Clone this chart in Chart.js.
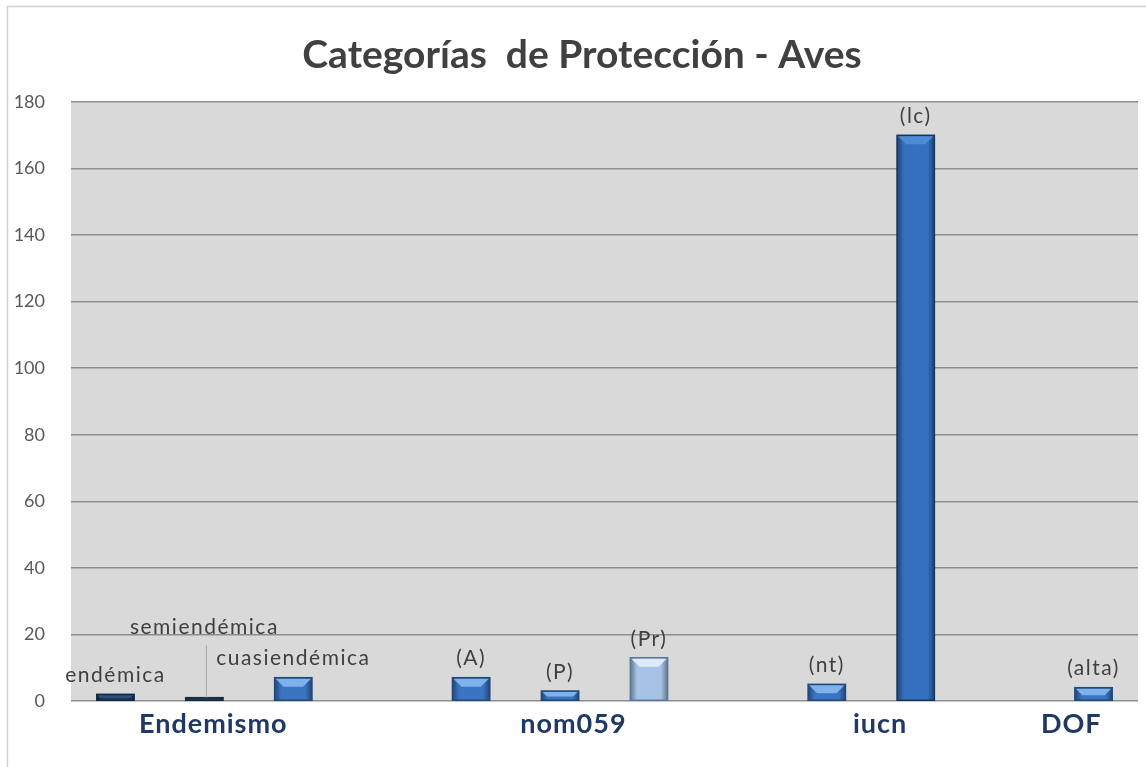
<!DOCTYPE html>
<html>
<head>
<meta charset="utf-8">
<script src="https://cdn.jsdelivr.net/npm/chart.js@4.4.0/dist/chart.umd.min.js"></script>
<style>
  html, body { margin: 0; padding: 0; background: #fff; }
  #wrap { width: 1146px; height: 767px; }
</style>
</head>
<body>
<div id="wrap"><canvas id="chart" width="1146" height="767"></canvas></div>
<script>
// etiquetas sobre cada barra; las ranuras vacías separan los grupos
const categorias = ['endémica', 'semiendémica', 'cuasiendémica', '', '(A)', '(P)', '(Pr)', '', '(nt)', '(lc)', '', '(alta)'];
const especies = [2, 1, 7, null, 7, 3, 13, null, 5, 170, null, 4];
const grupos = ['Endemismo', 'nom059', 'iucn', 'DOF'];
const yTicks = [0, 20, 40, 60, 80, 100, 120, 140, 160, 180];
const titulo = 'Categorías  de Protección - Aves';

// posición (en ranuras) de cada nombre de grupo bajo el eje
const grupoPos = [1.1, 5.15, 8.6, 10.75];

const tonos = ['oscuro', 'oscuro', 'medio', 'medio', 'medio', 'medio', 'claro', 'medio', 'medio', 'fuerte', 'medio', 'medio'];
const paleta = {
  oscuro: { fill: '#1f3b60', edge: '#14283f', top: '#2c4f7e' },
  medio:  { fill: '#3a75c2', edge: '#22497c', top: '#7fb2ea' },
  fuerte: { fill: '#3570be', edge: '#1b365b', top: '#4f8ad4' },
  claro:  { fill: '#a6c3e6', edge: '#5d7a9e', top: '#dceaf9' }
};

const fondoPlot = {
  id: 'fondoPlot',
  beforeDraw(chart) {
    const { ctx, chartArea: a } = chart;
    ctx.save();
    ctx.fillStyle = '#d9d9d9';
    ctx.fillRect(a.left, a.top, a.right - a.left, a.bottom - a.top);
    ctx.strokeStyle = '#d2d2d2';
    ctx.lineWidth = 1.5;
    ctx.beginPath();
    ctx.moveTo(7.5, chart.height);
    ctx.lineTo(7.5, 6.5);
    ctx.lineTo(chart.width, 6.5);
    ctx.stroke();
    // título
    ctx.font = 'bold 39px Lato';
    ctx.fillStyle = '#404040';
    ctx.textAlign = 'center';
    ctx.textBaseline = 'middle';
    ctx.fillText(titulo, chart.width / 2 + 9, 55);
    ctx.restore();
  }
};

// sombreado lateral y bisel superior de las barras
const relieve = {
  id: 'relieve',
  afterDatasetsDraw(chart) {
    const ctx = chart.ctx;
    const meta = chart.getDatasetMeta(0);
    meta.data.forEach((bar, i) => {
      if (especies[i] == null) return;
      const { x, y, base, width } = bar.getProps(['x', 'y', 'base', 'width'], true);
      const l = x - width / 2, r = x + width / 2, h = base - y;
      const t = paleta[tonos[i]];
      ctx.save();
      const g = ctx.createLinearGradient(l, 0, r, 0);
      g.addColorStop(0, 'rgba(0,0,0,0.4)');
      g.addColorStop(0.18, 'rgba(0,0,0,0)');
      g.addColorStop(0.82, 'rgba(0,0,0,0)');
      g.addColorStop(1, 'rgba(0,0,0,0.4)');
      ctx.fillStyle = g;
      ctx.fillRect(l, y, width, h);
      const b = Math.min(9, h * 0.6);
      ctx.fillStyle = t.top;
      ctx.beginPath();
      ctx.moveTo(l + 1, y + 1);
      ctx.lineTo(r - 1, y + 1);
      ctx.lineTo(r - b, y + b);
      ctx.lineTo(l + b, y + b);
      ctx.closePath();
      ctx.fill();
      ctx.strokeStyle = t.edge;
      ctx.lineWidth = 1.5;
      ctx.strokeRect(l, y, width, h);
      ctx.restore();
    });
  }
};

const etiquetas = {
  id: 'etiquetas',
  afterDatasetsDraw(chart, args, opts) {
    const ctx = chart.ctx;
    const meta = chart.getDatasetMeta(0);
    ctx.save();
    ctx.font = '21px Lato';
    ctx.letterSpacing = '1.5px';
    ctx.fillStyle = '#404040';
    ctx.textAlign = 'center';
    ctx.textBaseline = 'middle';
    meta.data.forEach((bar, i) => {
      const txt = categorias[i];
      if (!txt || especies[i] == null) return;
      const lift = opts.elevar[i] || 0;
      const ty = bar.y - 19 - lift;
      if (lift) {
        ctx.strokeStyle = '#a6a6a6';
        ctx.lineWidth = 1;
        ctx.beginPath();
        ctx.moveTo(bar.x + 2, ty + 18);
        ctx.lineTo(bar.x + 2, bar.y);
        ctx.stroke();
      }
      ctx.fillText(txt, bar.x, ty);
    });
    ctx.restore();
  }
};

const nombresGrupo = {
  id: 'nombresGrupo',
  afterDraw(chart) {
    const { ctx, scales: { x }, chartArea: a } = chart;
    const x0 = x.getPixelForValue(0), paso = x.getPixelForValue(1) - x0;
    ctx.save();
    ctx.font = 'bold 27px Lato';
    ctx.letterSpacing = '1px';
    ctx.fillStyle = '#1f3864';
    ctx.textAlign = 'center';
    ctx.textBaseline = 'middle';
    grupos.forEach((g, k) => ctx.fillText(g, x0 + grupoPos[k] * paso, a.bottom + 23));
    ctx.restore();
  }
};

const ctx = document.getElementById('chart').getContext('2d');
new Chart(ctx, {
  type: 'bar',
  data: {
    labels: categorias,
    datasets: [{
      data: especies,
      backgroundColor: tonos.map(t => paleta[t].fill),
      borderColor: tonos.map(t => paleta[t].edge),
      borderWidth: 0,
      barPercentage: 0.42,
      categoryPercentage: 1
    }]
  },
  options: {
    responsive: false,
    animation: false,
    layout: { padding: { top: 102, right: 8, bottom: 66, left: 0 } },
    plugins: {
      legend: { display: false },
      tooltip: { enabled: false },
      title: { display: false },
      etiquetas: { elevar: { 1: 51 } }
    },
    scales: {
      x: { display: false },
      y: {
        min: 0,
        max: 180,
        afterBuildTicks: s => { s.ticks = yTicks.map(v => ({ value: v })); },
        afterFit: s => { s.width = 71; },
        ticks: {
          padding: 26,
          color: '#595959',
          font: { family: 'Lato', size: 18 }
        },
        grid: { color: '#8e8e8e', lineWidth: 1.5, drawTicks: false },
        border: { display: false }
      }
    }
  },
  plugins: [fondoPlot, relieve, etiquetas, nombresGrupo]
});
</script>
</body>
</html>
